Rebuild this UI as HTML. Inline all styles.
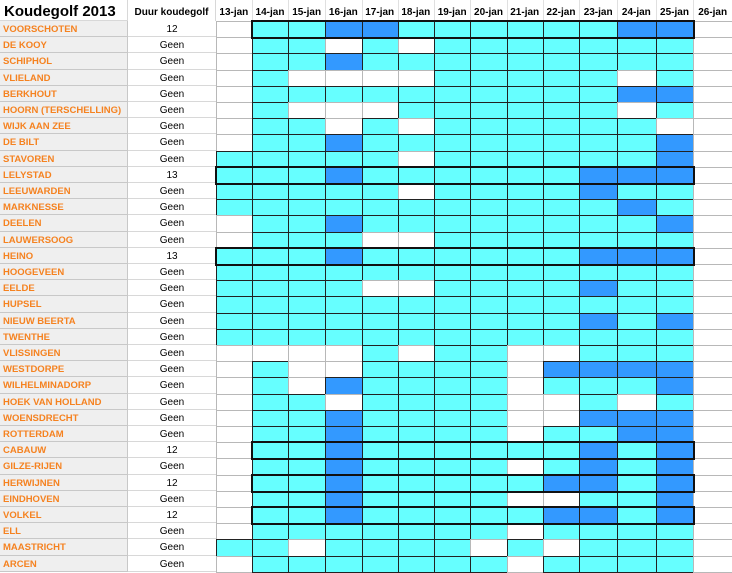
<!DOCTYPE html>
<html><head><meta charset="utf-8"><style>
body{margin:0;width:732px;height:573px;overflow:hidden;background:#fff;font-family:"Liberation Sans",sans-serif;position:relative}
.a{position:absolute;box-sizing:border-box}
.nm{position:absolute;left:0;width:128px;height:16.2px;background:#efefef;border-bottom:1px solid #c8c8c8;border-right:1px solid #c8c8c8;box-sizing:border-box;color:#f58220;font-weight:bold;font-size:9.5px;line-height:17px;padding-left:3px;white-space:nowrap}
.du{position:absolute;left:128px;width:88px;height:16.2px;border-bottom:1px solid #d8d8d8;box-sizing:border-box;font-size:10px;line-height:17px;text-align:center;color:#000}
.hd{position:absolute;top:0;height:21px;font-size:10px;font-weight:bold;line-height:26px;text-align:center}
</style></head><body>
<div class="a" style="left:0;top:0;width:128px;height:21px;font-size:15px;font-weight:bold;line-height:24px;padding-left:4px;border-right:1px solid #d8d8d8;border-bottom:1px solid #d8d8d8">Koudegolf 2013</div>
<div class="a" style="left:128px;top:0;width:88px;height:21px;font-size:10px;font-weight:bold;line-height:26px;text-align:center;border-right:1px solid #d8d8d8">Duur koudegolf</div>
<div id="hdrs"></div>
<div id="rows"></div>
<div id="g"></div>
<script>
var X=[216,251.7,288.3,325,361.7,397.7,434,470.3,506.7,542.7,579.3,617,655.7,693.3,732];
var dates=["13-jan","14-jan","15-jan","16-jan","17-jan","18-jan","19-jan","20-jan","21-jan","22-jan","23-jan","24-jan","25-jan","26-jan"];
var names=["VOORSCHOTEN","DE KOOY","SCHIPHOL","VLIELAND","BERKHOUT","HOORN (TERSCHELLING)","WIJK AAN ZEE","DE BILT","STAVOREN","LELYSTAD","LEEUWARDEN","MARKNESSE","DEELEN","LAUWERSOOG","HEINO","HOOGEVEEN","EELDE","HUPSEL","NIEUW BEERTA","TWENTHE","VLISSINGEN","WESTDORPE","WILHELMINADORP","HOEK VAN HOLLAND","WOENSDRECHT","ROTTERDAM","CABAUW","GILZE-RIJEN","HERWIJNEN","EINDHOVEN","VOLKEL","ELL","MAASTRICHT","ARCEN"];
var dur={0:"12",9:"13",14:"13",26:"12",28:"12",30:"12"};
var D=["WCCBBCCCCCCBBW","WCCWCWCCCCCCCW","WCCBCCCCCCCCCW","WCWWWWCCCCCWCW","WCCCCCCCCCCBBW","WCWWWCCCCCCWCW","WCCWCWCCCCCCWW","WCCBCCCCCCCCBW",
"CCCCCWCCCCCCBW","CCCBCCCCCCBBBW","CCCCCWCCCCBCCW","CCCCCCCCCCCBCW","WCCBCCCCCCCCBW","WCCCWWCCCCCCCW","CCCBCCCCCCBBBW","CCCCCCCCCCCCCW","CCCCWWCCCCBCCW",
"CCCCCCCCCCCCCW","CCCCCCCCCCBCBW","CCCCCCCCCCCCCW","WWWWCWCCWWCCCW","WCWWCCCCWBBBBW","WCWBCCCCWCCCBW","WCCWCCCCWWCWCW","WCCBCCCCWWBBBW","WCCBCCCCWCCBBW",
"WCCBCCCCCCBCBW","WCCBCCCCWCBCBW","WCCBCCCCCBBCBW","WCCBCCCCWWCCBW","WCCBCCCCCBBCBW","WCCCCCCCWCCCCW","CCWCCCCWCWCCCW","WCCCCCCCWCCCCW"];
var H=16.2,T=21,h="",r="",g="";
for(var j=0;j<14;j++)h+='<div class="hd" style="left:'+X[j]+'px;width:'+(X[j+1]-X[j])+'px;border-right:1px solid #e0e0e0">'+dates[j]+'</div>';
for(var i=0;i<34;i++){var y=T+i*H;
r+='<div class="nm" style="top:'+y+'px">'+names[i]+'</div><div class="du" style="top:'+y+'px">'+(dur[i]||"Geen")+'</div>';
for(j=0;j<14;j++){var c=D[i][j],col=c=="C"?"#66ffff":c=="B"?"#3399ff":"#fff";
var b=c=="W"?"#b8b8b8":"#222";
g+='<div class="a" style="left:'+X[j]+'px;top:'+y+'px;width:'+(X[j+1]-X[j]+1)+'px;height:'+(H+1)+'px;background:'+col+';border:1px solid '+b+'"></div>';}}
var thick={0:1,9:0,14:0,26:1,28:1,30:1};
for(var k in thick){var s=thick[k],y=T+k*H;g+='<div class="a" style="left:'+(X[s]-1)+'px;top:'+(y-1)+'px;width:'+(X[13]-X[s]+3)+'px;height:'+(H+3)+'px;border:2px solid #111"></div>';}
document.getElementById("hdrs").innerHTML=h;document.getElementById("rows").innerHTML=r;document.getElementById("g").innerHTML=g;
</script>
</body></html>
